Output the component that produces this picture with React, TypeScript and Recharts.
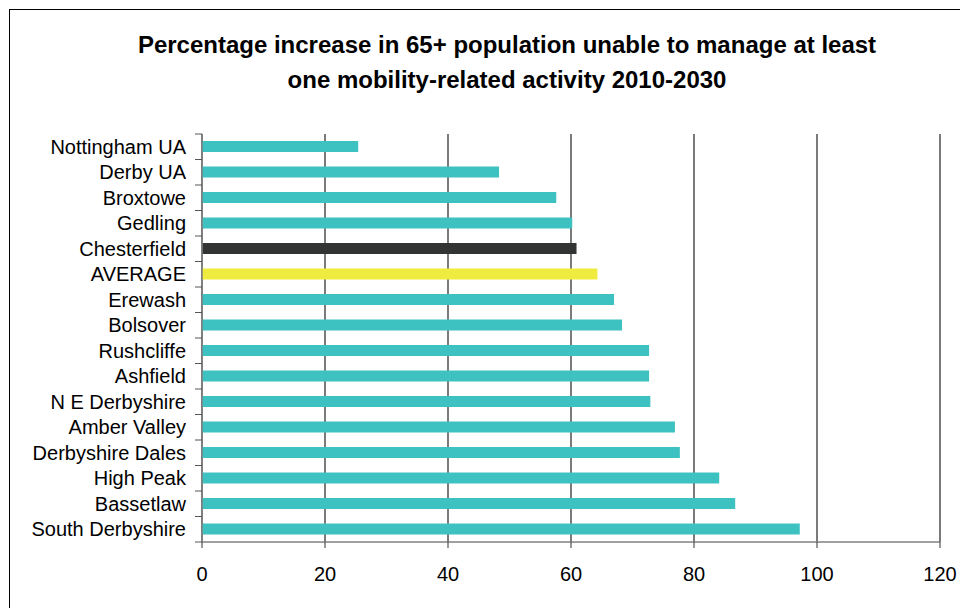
import { BarChart, Bar, XAxis, YAxis, CartesianGrid, Cell } from 'recharts';

const districts = [
  'Nottingham UA',
  'Derby UA',
  'Broxtowe',
  'Gedling',
  'Chesterfield',
  'AVERAGE',
  'Erewash',
  'Bolsover',
  'Rushcliffe',
  'Ashfield',
  'N E Derbyshire',
  'Amber Valley',
  'Derbyshire Dales',
  'High Peak',
  'Bassetlaw',
  'South Derbyshire',
];

const increase = [25.4, 48.3, 57.6, 60.2, 60.9, 64.3, 67.0, 68.3, 72.7, 72.7, 72.9, 76.9, 77.7, 84.1, 86.7, 97.2];

const xTicks = [0, 20, 40, 60, 80, 100, 120];

const TITLE_LINES = [
  'Percentage increase in 65+ population unable to manage at least',
  'one mobility-related activity 2010-2030',
];

const TEAL = '#3EC1C1';
const DARK = '#323434';
const YELLOW = '#EFEC3F';

const FONT = '"Liberation Sans", Arial, sans-serif';

// chart geometry (inside the 960x600 frame)
const W = 960;
const H = 600;
const PLOT_LEFT = 194;
const PLOT_TOP = 126;
const PLOT_BOTTOM = 534;
const BAND = (PLOT_BOTTOM - PLOT_TOP) / districts.length;

const data = districts.map((name, i) => ({ name, value: increase[i] }));

function barColor(name: string) {
  if (name === 'Chesterfield') return DARK;
  if (name === 'AVERAGE') return YELLOW;
  return TEAL;
}

// Excel style category ticks: label at band centre, tick marks on band edges
function CategoryTick(props: any) {
  const { y, payload, index } = props;
  const top = y - BAND / 2;
  return (
    <g>
      <line x1={PLOT_LEFT - 7} x2={PLOT_LEFT} y1={top} y2={top} stroke="#555" />
      {index === districts.length - 1 && (
        <line x1={PLOT_LEFT - 7} x2={PLOT_LEFT} y1={y + BAND / 2} y2={y + BAND / 2} stroke="#555" />
      )}
      <text
        x={PLOT_LEFT - 16}
        y={y}
        dy="0.36em"
        textAnchor="end"
        fontSize={20}
        fontFamily={FONT}
        fill="#000"
      >
        {payload.value}
      </text>
    </g>
  );
}

export default function App() {
  return (
    <div style={{ position: 'relative', width: W, height: H, overflow: 'hidden', background: '#fff' }}>
      <div
        style={{
          position: 'absolute',
          left: 1,
          top: 1,
          width: W + 20,
          height: H + 20,
          border: '1px solid #000',
          boxSizing: 'border-box',
        }}
      />
      <svg width={W} height={H} style={{ position: 'absolute', left: 0, top: 0 }}>
        {TITLE_LINES.map((line, i) => (
          <text
            key={i}
            x={499}
            y={45 + i * 35}
            textAnchor="middle"
            fontSize={24}
            fontWeight="bold"
            fontFamily={FONT}
            fill="#000"
          >
            {line}
          </text>
        ))}
      </svg>
      <div style={{ position: 'absolute', left: 0, top: 0 }}>
        <BarChart
          width={W}
          height={H}
          data={data}
          layout="vertical"
          margin={{ top: PLOT_TOP, right: 28, left: 0, bottom: 0 }}
        >
          <CartesianGrid horizontal={false} stroke="#222" strokeWidth={1.2} />
          <XAxis
            type="number"
            domain={[0, 120]}
            ticks={xTicks}
            interval={0}
            height={H - PLOT_BOTTOM}
            tickSize={6}
            tickMargin={19}
            axisLine={{ stroke: '#808080', strokeWidth: 1.5 }}
            tickLine={{ stroke: '#333' }}
            tick={{ fontSize: 20, fontFamily: FONT, fill: '#000' }}
          />
          <YAxis
            type="category"
            dataKey="name"
            width={PLOT_LEFT}
            interval={0}
            tickLine={false}
            axisLine={{ stroke: '#808080', strokeWidth: 1.5 }}
            tick={<CategoryTick />}
          />
          <Bar dataKey="value" barSize={11} isAnimationActive={false}>
            {data.map((d) => (
              <Cell key={d.name} fill={barColor(d.name)} />
            ))}
          </Bar>
        </BarChart>
      </div>
    </div>
  );
}
